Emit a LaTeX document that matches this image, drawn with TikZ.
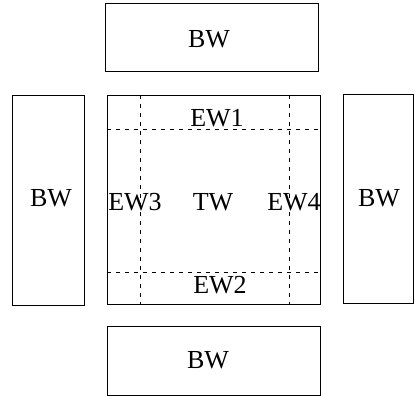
\documentclass[tikz,border=0pt]{standalone}
\usepackage{fontspec}
\setmainfont{Liberation Serif}
\usepackage{tikz}

\tikzset{
  wall/.style={draw,thin,rectangle,inner sep=0pt},
  edgeline/.style={thin,dash pattern=on 4pt off 5pt},
  lbl/.style={inner sep=0pt,font=\fontsize{26}{26}\selectfont}
}

\begin{document}
\begin{tikzpicture}[x=1pt,y=-1pt]
\useasboundingbox (0,0) rectangle (415,396);
\begin{scope}[every node/.style={wall}]
\node[minimum width=213pt,minimum height=68pt] (bwtop) at (211.5,37) {};
\node[minimum width=72pt,minimum height=210pt] (bwleft) at (48,200) {};
\node[minimum width=213pt,minimum height=209pt] (tw) at (213.5,199.5) {};
\node[minimum width=70pt,minimum height=209pt] (bwright) at (378,198.5) {};
\node[minimum width=213pt,minimum height=69pt] (bwbot) at (213.5,360.5) {};
\end{scope}

% edge zones inside the middle box
\draw[edgeline] ([yshift=-34pt]tw.north west) -- ([yshift=-34pt]tw.north east);
\draw[edgeline] ([yshift=32pt]tw.south west) -- ([yshift=32pt]tw.south east);
\draw[edgeline] ([xshift=33pt]tw.north west) -- ([xshift=33pt]tw.south west);
\draw[edgeline] ([xshift=-31pt]tw.north east) -- ([xshift=-31pt]tw.south east);

\begin{scope}[every node/.style={lbl}]
\node (lbtop) at (209,39) {BW};
\node (lbleft) at (51,198) {BW};
\node (lbright) at (379,198) {BW};
\node (lbbot) at (208,360) {BW};
\node (ew1) at (217,118) {EW1};
\node (ew2) at (220,285) {EW2};
\node (ew3) at (135,202) {EW3};
\node (ew4) at (294,202) {EW4};
\node (lbtw) at (213,202) {TW};
\end{scope}
\end{tikzpicture}
\end{document}
